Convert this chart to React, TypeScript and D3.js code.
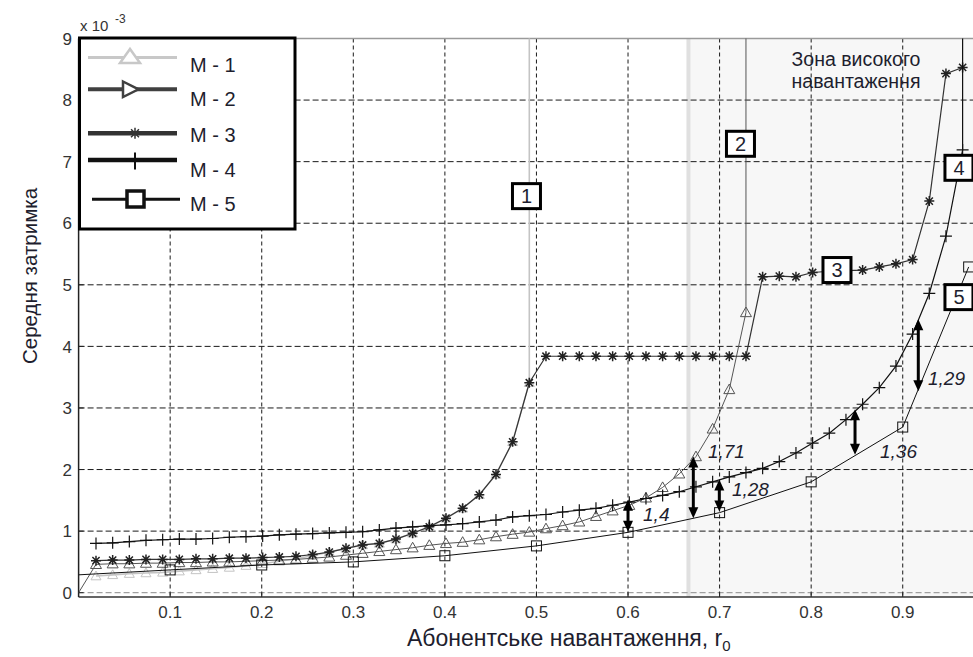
import * as d3 from "d3";
import React from "react";

// r0 grid shared by the model curves M-1..M-4
const loadGrid = [
  0.019, 0.0372, 0.0554, 0.0736, 0.0918, 0.11, 0.1282, 0.1464, 0.1646, 0.1828,
  0.201, 0.2192, 0.2374, 0.2556, 0.2738, 0.292, 0.3102, 0.3284, 0.3466, 0.3648,
  0.383, 0.4012, 0.4194, 0.4376, 0.4558, 0.474, 0.4922, 0.5104, 0.5286, 0.5468,
  0.565, 0.5832, 0.6014, 0.6196, 0.6378, 0.656, 0.6742, 0.6924, 0.7106, 0.7288,
  0.747, 0.7652, 0.7834, 0.8016, 0.8198, 0.838, 0.8562, 0.8744, 0.8926, 0.9108,
  0.929, 0.9472, 0.9654,
];

// mean delay, x 10^-3
const m1Delay = [
  0.27, 0.29, 0.31, 0.32, 0.33, 0.35, 0.37, 0.39, 0.41, 0.44,
  0.47, 0.51, 0.55, 0.6, 0.66, 0.72, 0.775, 0.8, 0.87, 0.965,
  1.07, 1.21, 1.37, 1.59, 1.92, 2.45, 3.41,
];
const m2Delay = [
  0.46, 0.47, 0.47, 0.48, 0.48, 0.49, 0.49, 0.5, 0.5, 0.51,
  0.52, 0.53, 0.54, 0.56, 0.58, 0.61, 0.64, 0.67, 0.7, 0.73,
  0.77, 0.8, 0.82, 0.86, 0.91, 0.95, 0.985, 1.04, 1.09, 1.15,
  1.24, 1.33, 1.42, 1.54, 1.71, 1.93, 2.21, 2.66, 3.3, 4.55,
];
const m3Delay = [
  0.52, 0.53, 0.53, 0.54, 0.54, 0.54, 0.55, 0.55, 0.56, 0.56,
  0.57, 0.58, 0.59, 0.62, 0.66, 0.72, 0.775, 0.8, 0.87, 0.965,
  1.07, 1.21, 1.37, 1.59, 1.92, 2.45, 3.41, 3.84, 3.84, 3.84,
  3.84, 3.84, 3.84, 3.84, 3.84, 3.84, 3.84, 3.84, 3.84, 3.84,
  5.13, 5.14, 5.13, 5.2, 5.22, 5.23, 5.24, 5.29, 5.34, 5.41,
  6.36, 8.43, 8.53,
];
const m4Delay = [
  0.8, 0.81, 0.83, 0.85, 0.86, 0.87, 0.87, 0.88, 0.9, 0.91,
  0.92, 0.94, 0.95, 0.96, 0.97, 0.98, 0.99, 1.02, 1.05, 1.07,
  1.09, 1.1, 1.12, 1.15, 1.18, 1.23, 1.25, 1.27, 1.31, 1.34,
  1.37, 1.42, 1.47, 1.53, 1.58, 1.64, 1.72, 1.8, 1.88, 1.95,
  2.02, 2.13, 2.27, 2.43, 2.59, 2.81, 3.06, 3.33, 3.68, 4.2,
  4.86, 5.79, 7.19,
];
const m5Load = [0, 0.1, 0.2, 0.3, 0.4, 0.5, 0.6, 0.7, 0.8, 0.9, 0.972];
const m5Delay = [0.29, 0.37, 0.45, 0.5, 0.6, 0.76, 0.98, 1.3, 1.8, 2.69, 5.29];

// value used for the vertical (unbounded) branch, far above the axis
const blowUp = 30;

const xTicks = [0.1, 0.2, 0.3, 0.4, 0.5, 0.6, 0.7, 0.8, 0.9];
const yTicks = [0, 1, 2, 3, 4, 5, 6, 7, 8, 9];
const zoneStart = 0.666;

const curveLabels = [
  { name: "1", x: 0.4891, y: 6.44 },
  { name: "2", x: 0.7228, y: 7.29 },
  { name: "3", x: 0.8282, y: 5.24 },
  { name: "4", x: 0.9614, y: 6.9 },
  { name: "5", x: 0.9614, y: 4.8 },
];

const ratioArrows = [
  { text: "1,4", x: 0.6, top: 1.51, bottom: 0.99, tx: 0.6164, ty: 1.17 },
  { text: "1,71", x: 0.6713, top: 2.21, bottom: 1.21, tx: 0.6873, ty: 2.19 },
  { text: "1,28", x: 0.6997, top: 1.84, bottom: 1.32, tx: 0.7135, ty: 1.57 },
  { text: "1,36", x: 0.8479, top: 2.98, bottom: 2.24, tx: 0.8752, ty: 2.19 },
  { text: "1,29", x: 0.917, top: 4.44, bottom: 3.27, tx: 0.9276, ty: 3.38 },
];

const legendItems = ["M - 1", "M - 2", "M - 3", "M - 4", "M - 5"];

const W = 973;
const H = 657;
const FONT = "'Liberation Sans', Arial, sans-serif";

type Pt = { x: number; y: number };

const zip = (xs: number[], ys: number[]): Pt[] => ys.map((v, i) => ({ x: xs[i], y: v }));

const starPath = (cx: number, cy: number, r: number) => {
  const d = r * 0.72;
  return `M${cx - r},${cy}h${2 * r}M${cx},${cy - r}v${2 * r}M${cx - d},${cy - d}l${2 * d},${2 * d}M${cx - d},${cy + d}l${2 * d},${-2 * d}`;
};
const plusPath = (cx: number, cy: number, r: number) =>
  `M${cx - r},${cy}h${2 * r}M${cx},${cy - r}v${2 * r}`;
const triUp = (cx: number, cy: number, r: number) =>
  `M${cx},${cy - r}L${cx - r},${cy + r * 0.75}L${cx + r},${cy + r * 0.75}Z`;

export default function App() {
  const x = d3.scaleLinear().domain([0, 1]).range([78.6, 994.3]);
  const y = d3.scaleLinear().domain([-0.07, 9]).range([597, 38.5]);
  const [x0, x1] = x.range();
  const [y0, y1] = y.range();

  const line = d3
    .line<Pt>()
    .x((d) => x(d.x))
    .y((d) => y(d.y));

  const m1 = zip(loadGrid, m1Delay);
  const m2 = [{ x: 0, y: 0 }, ...zip(loadGrid, m2Delay)];
  const m3 = zip(loadGrid, m3Delay);
  const m4 = zip(loadGrid, m4Delay);
  const m5 = zip(m5Load, m5Delay);
  const tail = (pts: Pt[]) => [...pts, { x: pts[pts.length - 1].x, y: blowUp }];

  return (
    <svg
      width={W}
      height={H}
      style={{ position: "absolute", left: 0, top: 0, background: "#fff" }}
      fontFamily={FONT}
    >
      <defs>
        <clipPath id="plot">
          <rect x={x0} y={y1} width={x1 - x0} height={y0 - y1} />
        </clipPath>
      </defs>

      {/* high load zone */}
      <rect x={x(zoneStart)} y={y1} width={x1 - x(zoneStart)} height={y0 - y1} fill="#f7f7f7" />
      <line x1={x(zoneStart)} x2={x(zoneStart)} y1={y1} y2={y0} stroke="#e0e0e0" strokeWidth={4} />

      {/* grid */}
      {xTicks.map((t) => (
        <line key={"gx" + t} x1={x(t)} x2={x(t)} y1={y1} y2={y0} stroke="#1a1a1a" strokeWidth={1} strokeDasharray="4,3" />
      ))}
      {yTicks.map((t) => (
        <line
          key={"gy" + t}
          x1={x0}
          x2={x1}
          y1={y(t)}
          y2={y(t)}
          stroke={t === 0 ? "#8a8a8a" : "#1a1a1a"}
          strokeWidth={1}
          strokeDasharray="6,3"
        />
      ))}

      {/* axes */}
      <line x1={x0} x2={x1} y1={y1} y2={y1} stroke="#9a9a9a" strokeWidth={1.5} />
      <line x1={x0} x2={x1} y1={y0} y2={y0} stroke="#333" strokeWidth={1.5} />
      <line x1={x0} x2={x0} y1={y1} y2={y0} stroke="#222" strokeWidth={1.5} />
      {xTicks.map((t) => (
        <g key={"tx" + t}>
          <line x1={x(t)} x2={x(t)} y1={y0} y2={y0 - 5} stroke="#222" />
          <text x={x(t)} y={618} textAnchor="middle" fontSize={17} fill="#333">
            {t.toFixed(1)}
          </text>
        </g>
      ))}
      {yTicks.map((t) => (
        <g key={"ty" + t}>
          <line x1={x0} x2={x0 + 5} y1={y(t)} y2={y(t)} stroke="#222" />
          <text x={72} y={y(t)} dy="0.36em" textAnchor="end" fontSize={17} fill="#333">
            {t}
          </text>
        </g>
      ))}
      <text x={80} y={31} fontSize={15} fill="#333">
        x 10
      </text>
      <text x={115} y={23} fontSize={12} fill="#333">
        -3
      </text>

      <g clipPath="url(#plot)">
        {/* M-1 */}
        <path d={line(tail(m1)) ?? ""} fill="none" stroke="#c4c4c4" strokeWidth={1.6} />
        {m1.map((p, i) => (
          <path key={"m1" + i} d={triUp(x(p.x), y(p.y), 5)} fill="none" stroke="#c4c4c4" strokeWidth={1} />
        ))}
        {/* M-2 */}
        <path d={line(tail(m2)) ?? ""} fill="none" stroke="#555" strokeWidth={1} />
        {m2
          .filter((p) => p.x > 0)
          .map((p, i) => (
            <path key={"m2" + i} d={triUp(x(p.x), y(p.y), 5.5)} fill="none" stroke="#555" strokeWidth={1} />
          ))}
        {/* M-3 */}
        <path d={line(m3) ?? ""} fill="none" stroke="#333" strokeWidth={1.2} />
        {m3.map((p, i) => (
          <path key={"m3" + i} d={starPath(x(p.x), y(p.y), 5)} fill="none" stroke="#222" strokeWidth={1.5} />
        ))}
        {/* M-4 */}
        <path d={line(tail(m4)) ?? ""} fill="none" stroke="#111" strokeWidth={1.2} />
        {m4.map((p, i) => (
          <path key={"m4" + i} d={plusPath(x(p.x), y(p.y), 6)} fill="none" stroke="#111" strokeWidth={1.2} />
        ))}
        {/* M-5 */}
        <path d={line(m5) ?? ""} fill="none" stroke="#111" strokeWidth={1} />
        {m5
          .filter((p) => p.x > 0)
          .map((p, i) => (
            <rect key={"m5" + i} x={x(p.x) - 5} y={y(p.y) - 5} width={10} height={10} fill="none" stroke="#111" strokeWidth={1} />
          ))}
      </g>

      {/* ratio arrows */}
      {ratioArrows.map((a) => {
        const ax = x(a.x);
        const yt = y(a.top);
        const yb = y(a.bottom);
        return (
          <g key={a.text}>
            <line x1={ax} x2={ax} y1={yt + 8} y2={yb - 8} stroke="#000" strokeWidth={3} />
            <path d={`M${ax},${yt}L${ax - 5},${yt + 11}L${ax + 5},${yt + 11}Z`} fill="#000" />
            <path d={`M${ax},${yb}L${ax - 5},${yb - 11}L${ax + 5},${yb - 11}Z`} fill="#000" />
            <text x={x(a.tx)} y={y(a.ty)} fontSize={19} fontStyle="italic" fill="#1e1e2e">
              {a.text}
            </text>
          </g>
        );
      })}

      {/* curve number boxes */}
      {curveLabels.map((c) => (
        <g key={"cl" + c.name}>
          <rect x={x(c.x) - 14} y={y(c.y) - 12.5} width={28} height={25} fill="#fff" stroke="#000" strokeWidth={3} />
          <text x={x(c.x)} y={y(c.y)} dy="0.36em" textAnchor="middle" fontSize={20} fill="#1e1e2e">
            {c.name}
          </text>
        </g>
      ))}

      <text x={856} y={66} textAnchor="middle" fontSize={19.5} fill="#1e1e2e">
        Зона високого
      </text>
      <text x={856} y={88} textAnchor="middle" fontSize={19.5} fill="#1e1e2e">
        навантаження
      </text>

      {/* legend */}
      <g>
        <rect x={79.5} y={38} width={215.5} height={191} fill="#fff" stroke="#000" strokeWidth={3} />
        <line x1={88} x2={177} y1={57.5} y2={57.5} stroke="#c8c8c8" strokeWidth={3} />
        <path d="M130,49L120,63L140,63Z" fill="#fff" stroke="#c8c8c8" strokeWidth={2.5} />
        <line x1={88} x2={177} y1={89.3} y2={89.3} stroke="#404040" strokeWidth={4} />
        <path d="M123,81.5L138.5,89.3L123,97Z" fill="#fff" stroke="#404040" strokeWidth={2.5} />
        <line x1={88} x2={177} y1={133.3} y2={133.3} stroke="#333" strokeWidth={4.5} />
        <path d={starPath(135, 133.3, 5.5)} fill="none" stroke="#333" strokeWidth={1.5} />
        <line x1={88} x2={177} y1={160} y2={160} stroke="#111" strokeWidth={4.5} />
        <path d={plusPath(135, 161, 8.5)} fill="none" stroke="#111" strokeWidth={2} />
        <line x1={92} x2={180} y1={199.3} y2={199.3} stroke="#111" strokeWidth={3} />
        <rect x={127} y={191} width={17} height={16} fill="#fff" stroke="#111" strokeWidth={3.5} />
        {legendItems.map((s, i) => (
          <text key={s} x={190} y={[71.5, 106, 142, 177, 211]![i]} fontSize={20} fill="#1e1e2e">
            {s}
          </text>
        ))}
      </g>

      {/* axis titles */}
      <text x={407} y={646} fontSize={23} fill="#1e1e2e">
        Абонентське навантаження, r<tspan fontSize={15} dy={5}>0</tspan>
      </text>
      <text
        transform="translate(37,276) rotate(-90)"
        textAnchor="middle"
        fontSize={20.5}
        fill="#1e1e2e"
      >
        Середня затримка
      </text>
    </svg>
  );
}
